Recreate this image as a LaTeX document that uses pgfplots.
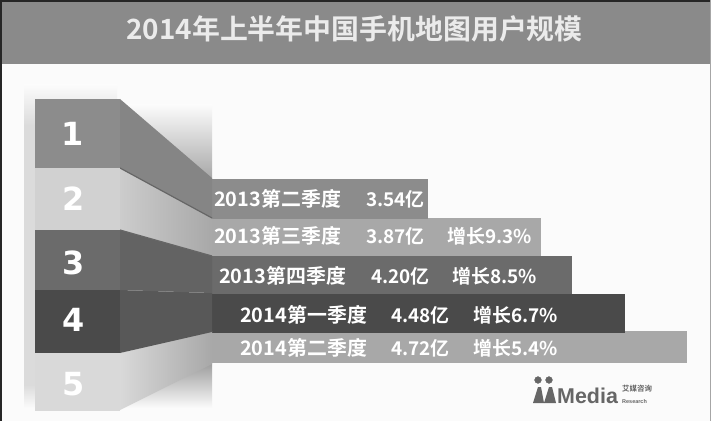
\documentclass[border=0pt]{standalone}
\usepackage{pgfplots}
\pgfplotsset{compat=1.18}
\usepackage{fontspec}
\setmainfont{Noto Sans CJK SC}[BoldFont={Noto Sans CJK SC Bold}]
\newfontfamily\numfont{DejaVu Sans Bold}
\newfontfamily\latfont{Liberation Sans Bold}

\definecolor{band}{gray}{0.54}
\definecolor{pagebg}{gray}{0.985}
\definecolor{c1}{gray}{0.55}
\definecolor{c2}{gray}{0.80}
\definecolor{c3}{gray}{0.42}
\definecolor{c4}{gray}{0.29}
\definecolor{c5}{gray}{0.66}
\definecolor{c5l}{gray}{0.85}

% bar rows: everything is placed in pixels of the picture
\newcommand{\barlabel}[3]{\node[anchor=west,text=white,font=\bfseries\fontsize{20}{20}\selectfont,inner sep=0pt] at (axis cs:#1,#2) {#3};}
\newcommand{\vallabel}[3]{\node[anchor=west,text=white,font=\bfseries\fontsize{19}{19}\selectfont,inner sep=0pt] at (axis cs:#1,#2) {#3};}

\begin{document}
\begin{tikzpicture}
\begin{axis}[
    scale only axis,
    width=711bp, height=421bp,
    xmin=0, xmax=711, ymin=0, ymax=421,
    y dir=reverse,
    hide axis,
    clip=true,
]
% page and title band
\addplot[draw=none,fill=pagebg] coordinates {(0,0)(711,0)(711,421)(0,421)} --cycle;
\addplot[draw=none,fill=band] coordinates {(0,0)(711,0)(711,64)(0,64)} --cycle;
\addplot[draw=none,fill=black!85] coordinates {(0,0)(711,0)(711,2)(0,2)} --cycle;
\addplot[draw=none,fill=black!85] coordinates {(0,0)(1.5,0)(1.5,421)(0,421)} --cycle;
\addplot[draw=none,fill=black!35] coordinates {(710,0)(711,0)(711,421)(710,421)} --cycle;

% soft shadow behind the stack
\addplot[draw=none,top color=pagebg,bottom color=black!14] coordinates {(24,85)(117,85)(117,125)(24,125)} --cycle;
\addplot[draw=none,fill=black!14] coordinates {(24,125)(117,125)(117,385)(24,385)} --cycle;
\addplot[draw=none,top color=black!14,bottom color=pagebg] coordinates {(24,385)(117,385)(117,408)(24,408)} --cycle;
\addplot[draw=none,top color=pagebg,bottom color=black!35] coordinates {(117,105)(212,105)(212,180)(117,180)} --cycle;
\addplot[draw=none,top color=black!45,bottom color=pagebg] coordinates {(117,355)(212,355)(212,408)(117,408)} --cycle;

% bars, lowest first
\addplot[draw=none,fill=c5] coordinates {(212,331)(687,331)(687,363)(212,363)} --cycle;
\addplot[draw=none,fill=c4] coordinates {(212,294)(625,294)(625,333)(212,333)} --cycle;
\addplot[draw=none,fill=c3] coordinates {(212,256)(572,256)(572,294)(212,294)} --cycle;
\addplot[draw=none,fill=c5] coordinates {(212,218)(541,218)(541,256)(212,256)} --cycle;
\addplot[draw=none,fill=c1] coordinates {(212,179)(428,179)(428,219)(212,219)} --cycle;

% slanted middle part
\addplot[draw=none,left color=c5l,right color=c5] coordinates {(120,353)(212,331)(212,364)(120,410)} --cycle;
\addplot[draw=none,fill=c4!92!white] coordinates {(120,290)(212,293)(212,332)(120,353)} --cycle;
\addplot[draw=none,fill=c3!92!black] coordinates {(120,230)(212,256)(212,293)(120,290)} --cycle;
\addplot[draw=none,left color=c2,right color=c5] coordinates {(120,168)(212,218)(212,256)(120,230)} --cycle;
\addplot[draw=none,fill=c1!95!black] coordinates {(120,99)(212,178)(212,218)(120,168)} --cycle;
\addplot[black!60,line width=1.2pt] coordinates {(120,168)(212,218)};
\addplot[black!60,line width=1.2pt] coordinates {(120,230)(212,256)};

% left column
\addplot[draw=none,fill=c5l] coordinates {(35,353)(120,353)(120,411)(35,411)} --cycle;
\addplot[draw=none,fill=c4] coordinates {(35,290)(120,290)(120,353)(35,353)} --cycle;
\addplot[draw=none,fill=c3] coordinates {(35,230)(120,230)(120,290)(35,290)} --cycle;
\addplot[draw=none,fill=c2!90!white] coordinates {(35,168)(120,168)(120,230)(35,230)} --cycle;
\addplot[draw=none,fill=c1] coordinates {(35,99)(120,99)(120,168)(35,168)} --cycle;

% logo
\addplot[only marks,mark=*,mark size=3.4bp,black!60,mark options={draw=none}] coordinates {(538,380)(549,380)};
\addplot[draw=none,fill=black!60] coordinates {(533,403)(538,387)(541,387)(544,403)} --cycle;
\addplot[draw=none,fill=black!60] coordinates {(544,403)(549,387)(552,387)(556,403)} --cycle;

\node[text=white!92!black,font=\bfseries\fontsize{28}{28}\selectfont] at (axis cs:354.5,29) {2014年上半年中国手机地图用户规模};

\node[text=white,font=\numfont\fontsize{32}{32}\selectfont] at (axis cs:73,134) {1};
\node[text=white,font=\numfont\fontsize{32}{32}\selectfont] at (axis cs:74,199) {2};
\node[text=white,font=\numfont\fontsize{32}{32}\selectfont] at (axis cs:74,263) {3};
\node[text=white,font=\numfont\fontsize{32}{32}\selectfont] at (axis cs:74,320) {4};
\node[text=white,font=\numfont\fontsize{32}{32}\selectfont] at (axis cs:74,384) {5};

\barlabel{214}{199}{2013第二季度}
\vallabel{366}{199}{3.54亿}
\barlabel{214}{236}{2013第三季度}
\vallabel{366}{236}{3.87亿}
\vallabel{447}{236}{增长9.3\%}
\barlabel{219}{276}{2013第四季度}
\vallabel{371}{276}{4.20亿}
\vallabel{452}{276}{增长8.5\%}
\barlabel{240}{315}{2014第一季度}
\vallabel{391}{315}{4.48亿}
\vallabel{473}{315}{增长6.7\%}
\barlabel{240}{348}{2014第二季度}
\vallabel{391}{348}{4.72亿}
\vallabel{473}{348}{增长5.4\%}

\node[anchor=west,text=black!60,font=\latfont\fontsize{21.5}{21.5}\selectfont,inner sep=0pt] at (axis cs:557,396) {Media};
\node[anchor=west,text=black!60,font=\bfseries\fontsize{7.5}{7.5}\selectfont,inner sep=0pt] at (axis cs:622,388.5) {艾媒咨询};
\node[anchor=west,text=black!60,font=\latfont\fontsize{5.5}{5.5}\selectfont,inner sep=0pt] at (axis cs:622,402) {Research};
\end{axis}
\end{tikzpicture}
\end{document}
